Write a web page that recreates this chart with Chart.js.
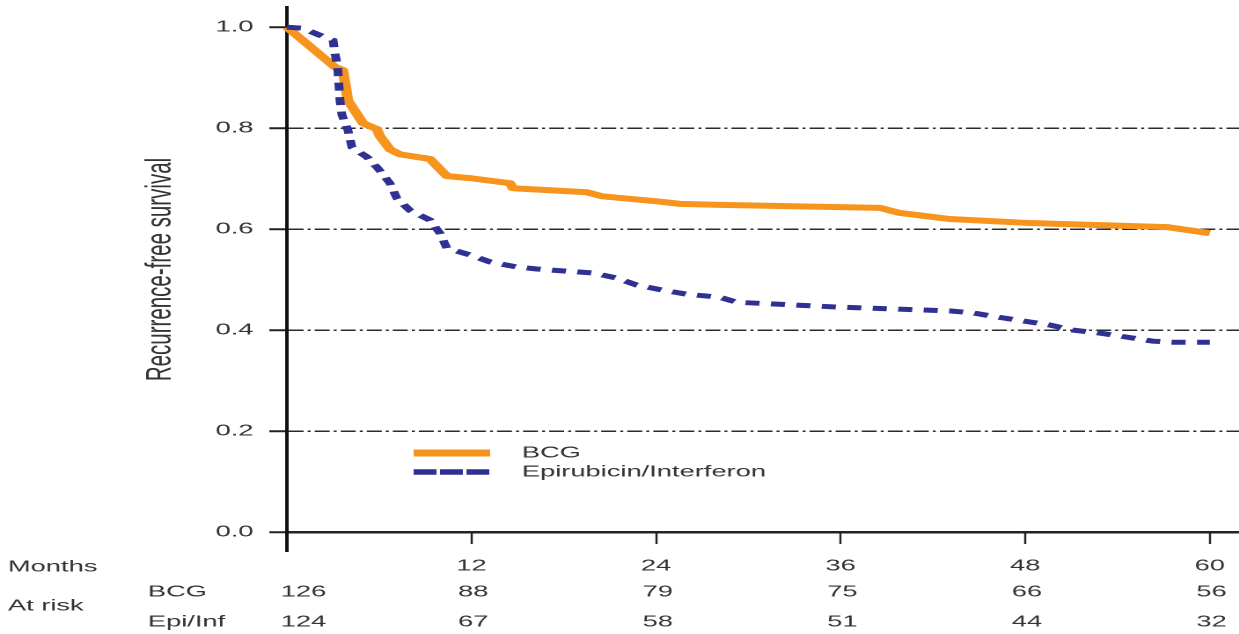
<!DOCTYPE html>
<html>
<head>
<meta charset="utf-8">
<title>Recurrence-free survival</title>
<script src="https://cdn.jsdelivr.net/npm/chart.js@4.4.1/dist/chart.umd.min.js"></script>
<style>
  html, body { margin: 0; padding: 0; background: #fff; overflow: hidden; }
  /* the figure is laid out on a narrow canvas and widened horizontally */
  #wrap { width: 704px; height: 634px; transform: scaleX(1.76); transform-origin: 0 0; }
  canvas { display: block; }
</style>
</head>
<body>
<div id="wrap"><canvas id="km" width="704" height="634"></canvas></div>
<script>
// Tick values
const monthTicks = [0, 12, 24, 36, 48, 60];
const survivalTicks = [0, 0.2, 0.4, 0.6, 0.8, 1.0];

// Kaplan-Meier estimate, BCG arm
const bcgMonths = [0, 3.12, 3.64, 3.97, 4.94, 5.85, 6.05, 6.70, 7.35, 9.30, 9.75, 10.40, 11.9, 14.5, 14.7,
  19.5, 20.5, 24.05, 25.55, 28.15, 38.55, 39.85, 43.1, 48.3, 57.2, 60];
const bcgSurvival = [1.0, 0.921, 0.915, 0.855, 0.810, 0.798, 0.784, 0.758, 0.748, 0.739, 0.725, 0.705, 0.701, 0.691, 0.681,
  0.673, 0.665, 0.655, 0.650, 0.648, 0.642, 0.632, 0.620, 0.612, 0.604, 0.592];

// Kaplan-Meier estimate, epirubicin/interferon arm
const epiMonths = [0, 1.0, 2.15, 3.0, 3.12, 3.3, 3.45, 3.58, 3.97, 4.23, 5.2, 5.9, 6.7, 7.15, 8.0, 9.3, 9.95, 10.4,
  11.9, 13.2, 14.95, 16.25, 19.9, 21.45, 22.75, 24.45, 26.0, 28.15, 29.25, 30.75, 35.5, 43.1, 44.6, 46.15,
  49.6, 51.1, 52.85, 54.6, 56.3, 57.6, 60];
const epiSurvival = [1.0, 0.998, 0.984, 0.974, 0.949, 0.921, 0.855, 0.826, 0.796, 0.762, 0.743, 0.721, 0.691, 0.661, 0.637, 0.618, 0.592, 0.562,
  0.549, 0.535, 0.525, 0.521, 0.513, 0.503, 0.489, 0.479, 0.471, 0.465, 0.455, 0.453, 0.446, 0.438, 0.434, 0.426,
  0.410, 0.400, 0.394, 0.386, 0.378, 0.376, 0.376];

// Numbers at risk at each tick month
const riskGroups = ['BCG', 'Epi/Inf'];
const atRiskBCG = [126, 88, 79, 75, 66, 56];
const atRiskEpi = [124, 67, 58, 51, 44, 32];

const ORANGE = '#f7941d';
const BLUE = '#2e3192';
const INK = '#333333';
const FONT = '"Liberation Sans", Arial, Helvetica, sans-serif';

Chart.defaults.font.family = FONT;
Chart.defaults.font.size = 15.5;
Chart.defaults.color = INK;

const toPoints = (xs, ys) => xs.map((x, i) => ({ x: x, y: ys[i] }));

// y axis runs on a little below the x axis
const axisStub = {
  id: 'axisStub',
  afterDraw(chart) {
    const { ctx, scales: { x, y } } = chart;
    const px = x.getPixelForValue(0);
    const py = y.getPixelForValue(0);
    ctx.save();
    ctx.strokeStyle = '#111';
    ctx.lineWidth = 2;
    ctx.beginPath();
    ctx.moveTo(px, py - 1);
    ctx.lineTo(px, py + 20);
    ctx.stroke();
    ctx.restore();
  }
};

// legend sitting inside the plot
const inlineLegend = {
  id: 'inlineLegend',
  afterDatasetsDraw(chart) {
    const ctx = chart.ctx;
    const rows = [
      { ds: chart.data.datasets[0], y: 453, width: 7, dash: [] },
      { ds: chart.data.datasets[1], y: 472, width: 5.5, dash: [13, 2] }
    ];
    ctx.save();
    rows.forEach(r => {
      ctx.strokeStyle = r.ds.borderColor;
      ctx.lineWidth = r.width;
      ctx.lineCap = 'butt';
      ctx.setLineDash(r.dash);
      ctx.beginPath();
      ctx.moveTo(235, r.y);
      ctx.lineTo(278.5, r.y);
      ctx.stroke();
      ctx.setLineDash([]);
      ctx.fillStyle = INK;
      ctx.font = '15.5px ' + FONT;
      ctx.textAlign = 'left';
      ctx.textBaseline = 'middle';
      ctx.fillText(r.ds.label, 296.5, r.y);
    });
    ctx.restore();
  }
};

// numbers-at-risk table under the x axis
const riskTable = {
  id: 'riskTable',
  afterDraw(chart) {
    const { ctx, scales: { x } } = chart;
    ctx.save();
    ctx.fillStyle = INK;
    ctx.font = '15.5px ' + FONT;
    ctx.textBaseline = 'middle';
    ctx.textAlign = 'left';
    ctx.fillText('Months', 4.5, 567);
    ctx.fillText('At risk', 4.5, 606);
    const rows = [
      { label: riskGroups[0], values: atRiskBCG, y: 592 },
      { label: riskGroups[1], values: atRiskEpi, y: 622 }
    ];
    rows.forEach(r => {
      ctx.textAlign = 'left';
      ctx.fillText(r.label, 84, r.y);
      r.values.forEach((v, i) => {
        const px = x.getPixelForValue(monthTicks[i]);
        if (i === 0) {
          ctx.textAlign = 'left';
          ctx.fillText(String(v), px - 3.5, r.y);
        } else {
          ctx.textAlign = 'center';
          ctx.fillText(String(v), px + 1, r.y);
        }
      });
    });
    ctx.restore();
  }
};

new Chart(document.getElementById('km'), {
  type: 'line',
  data: {
    datasets: [
      {
        label: 'BCG',
        data: toPoints(bcgMonths, bcgSurvival),
        borderColor: ORANGE,
        backgroundColor: ORANGE,
        borderWidth: 6,
        borderJoinStyle: 'round',
        pointRadius: 0,
        tension: 0,
        fill: false,
        clip: false,
        order: 1
      },
      {
        label: 'Epirubicin/Interferon',
        data: toPoints(epiMonths, epiSurvival),
        borderColor: BLUE,
        backgroundColor: BLUE,
        borderWidth: 5,
        borderDash: [8, 6.5],
        borderCapStyle: 'butt',
        pointRadius: 0,
        tension: 0,
        fill: false,
        clip: false,
        order: 0
      }
    ]
  },
  options: {
    responsive: false,
    devicePixelRatio: 2,
    animation: false,
    events: [],
    layout: { padding: { top: 7, right: 0, bottom: 0, left: 0 } },
    plugins: {
      legend: { display: false },
      tooltip: { enabled: false },
      title: { display: false }
    },
    scales: {
      x: {
        type: 'linear',
        min: 0,
        max: 61.9,
        afterFit(scale) {
          scale.height = 102;
          scale.paddingLeft = 0;
          scale.paddingRight = 0;
        },
        afterBuildTicks(scale) { scale.ticks = monthTicks.map(v => ({ value: v })); },
        ticks: {
          autoSkip: false,
          maxRotation: 0,
          padding: 13,
          color: INK,
          callback: v => (v === 0 ? '' : String(v))
        },
        grid: {
          display: true,
          drawOnChartArea: false,
          drawTicks: true,
          tickLength: 12,
          tickWidth: 1.2,
          tickColor: '#222'
        },
        border: { display: true, color: '#222', width: 2.5 }
      },
      y: {
        type: 'linear',
        min: 0,
        max: 1.04,
        afterFit(scale) {
          scale.width = 163;
          scale.paddingTop = 0;
          scale.paddingBottom = 0;
        },
        afterBuildTicks(scale) { scale.ticks = survivalTicks.map(v => ({ value: v })); },
        ticks: {
          padding: 9,
          color: INK,
          callback: v => Number(v).toFixed(1)
        },
        grid: {
          display: true,
          drawOnChartArea: true,
          drawTicks: true,
          tickLength: 10,
          tickWidth: 2,
          tickColor: '#222',
          lineWidth: 1.5,
          color: ctx => (ctx.tick && ctx.tick.value > 0.01 && ctx.tick.value < 0.99) ? '#2a2a2a' : 'rgba(0,0,0,0)'
        },
        border: { display: true, color: '#111', width: 2, dash: [8.5, 2.3, 1.7, 2.3] },
        title: {
          display: true,
          text: 'Recurrence-free survival',
          color: INK,
          font: { size: 20.5, family: FONT },
          padding: { top: 79, bottom: 0 }
        }
      }
    }
  },
  plugins: [axisStub, inlineLegend, riskTable]
});
</script>
</body>
</html>
